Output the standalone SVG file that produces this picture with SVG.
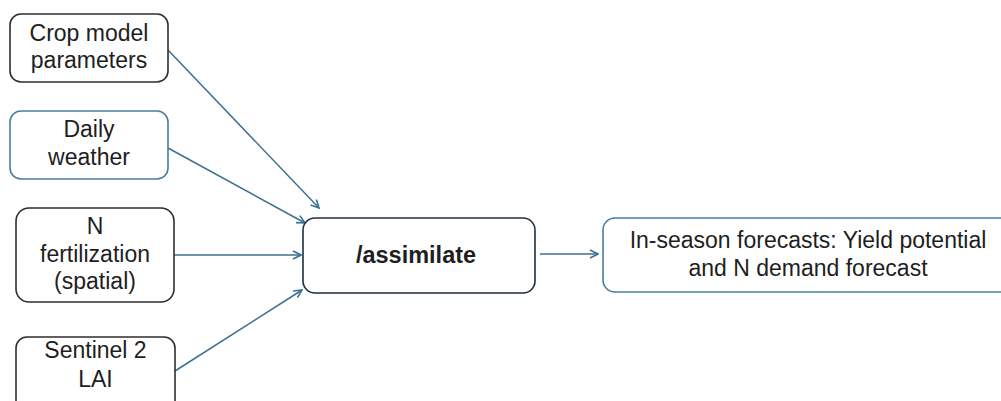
<svg xmlns="http://www.w3.org/2000/svg" width="1001" height="401" viewBox="0 0 1001 401">
  <defs>
    <style>
      .box { fill: #ffffff; stroke-width: 1.6; }
      .dark { stroke: #2e2e2e; }
      .blue { stroke: #4a7d9e; }
      .navy { stroke: #1f2f40; }
      .lbl { font-family: "Liberation Sans", Arial, sans-serif; font-size: 23px; fill: #1e1e1e; text-anchor: middle; }
      .bold { font-weight: bold; font-size: 23.5px; }
      .edge { fill: none; stroke: #3c7091; stroke-width: 1.5; marker-end: url(#arrow); }
    </style>
    <marker id="arrow" viewBox="0 0 10 10" refX="9" refY="5" markerWidth="10" markerHeight="10" markerUnits="userSpaceOnUse" orient="auto">
      <path d="M1,1 L9,5 L1,9" fill="none" stroke="#3c7091" stroke-width="1.6" stroke-linejoin="miter"/>
    </marker>
  </defs>

  <g id="connectors">
    <line class="edge" x1="168" y1="50" x2="319" y2="208"/>
    <line class="edge" x1="168" y1="148" x2="305" y2="223"/>
    <line class="edge" x1="174" y1="255" x2="301" y2="255"/>
    <line class="edge" x1="175" y1="371" x2="302" y2="290"/>
    <line class="edge" x1="540" y1="254" x2="598" y2="254"/>
  </g>

  <g id="crop-model-parameters">
    <rect class="box dark" x="10" y="14" width="158" height="68" rx="11"/>
    <text class="lbl" x="89" y="41">Crop model</text>
    <text class="lbl" x="89" y="68">parameters</text>
  </g>

  <g id="daily-weather">
    <rect class="box blue" x="10" y="111" width="158" height="68" rx="11"/>
    <text class="lbl" x="89" y="137">Daily</text>
    <text class="lbl" x="89" y="165">weather</text>
  </g>

  <g id="n-fertilization">
    <rect class="box dark" x="16" y="208" width="158" height="94" rx="13"/>
    <text class="lbl" x="95" y="234">N</text>
    <text class="lbl" x="95" y="262">fertilization</text>
    <text class="lbl" x="95" y="289">(spatial)</text>
  </g>

  <g id="sentinel-2-lai">
    <rect class="box dark" x="16" y="337" width="159" height="80" rx="11"/>
    <text class="lbl" x="95.5" y="358">Sentinel 2</text>
    <text class="lbl" x="95.5" y="387">LAI</text>
  </g>

  <g id="assimilate">
    <rect class="box navy" x="303" y="218" width="232" height="75" rx="12"/>
    <text class="lbl bold" x="416" y="263">/assimilate</text>
  </g>

  <g id="in-season-forecasts">
    <rect class="box blue" x="603" y="218" width="420" height="74" rx="12"/>
    <text class="lbl" x="808" y="248">In-season forecasts: Yield potential</text>
    <text class="lbl" x="808" y="276">and N demand forecast</text>
  </g>
</svg>
